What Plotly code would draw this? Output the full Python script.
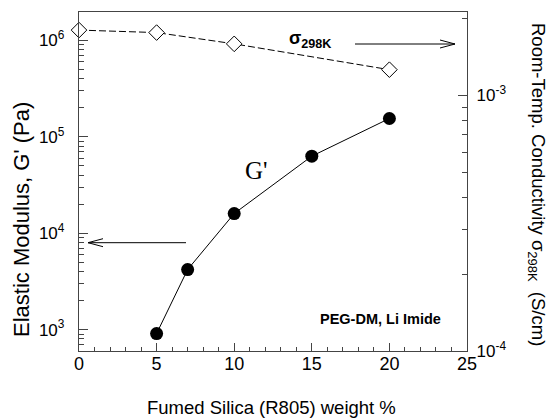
import plotly.graph_objects as go

# ---- data ----
x_sigma = [0, 5, 10, 20]
sigma = [1.80e-3, 1.76e-3, 1.59e-3, 1.26e-3]

x_g = [5, 7, 10, 15, 20]
g_mod = [910, 4200, 1.6e4, 6.3e4, 1.55e5]

x_ticks = [0, 5, 10, 15, 20, 25]
x_minor = [i for i in range(0, 26) if i % 5]
left_major = [1e3, 1e4, 1e5, 1e6]
left_labels = ["10<sup>3</sup>", "10<sup>4</sup>", "10<sup>5</sup>", "10<sup>6</sup>"]
left_minor = [m * 10 ** e for e in range(2, 7) for m in range(2, 10)]
right_major = [1e-4, 1e-3]
right_labels = ["10<sup>-4</sup>", "10<sup>-3</sup>"]
right_minor = [m * 10.0 ** e for e in (-4, -3) for m in range(2, 10)]

# ---- layout geometry (pixels) ----
W, H = 548, 418
L, R, T, B = 79, 81, 12, 67
pw, ph = W - L - R, H - T - B


def px(x):
    return (x - L) / pw


def py(y):
    return (H - B - y) / ph


AX = "#444444"
FONT = "Liberation Sans, Arial, sans-serif"

fig = go.Figure()
fig.add_trace(go.Scatter(
    x=x_g, y=g_mod, mode="lines+markers", yaxis="y",
    line=dict(color="black", width=1),
    marker=dict(symbol="circle", size=13, color="black"),
    cliponaxis=False, showlegend=False))
fig.add_trace(go.Scatter(
    x=x_sigma, y=sigma, mode="lines+markers", yaxis="y2",
    line=dict(color="black", width=1, dash="7px,3px"),
    marker=dict(symbol="diamond", size=12, color="white",
                line=dict(color="black", width=1)),
    cliponaxis=False, showlegend=False))

common = dict(showgrid=False, zeroline=False, showline=True, linecolor=AX,
              linewidth=1.3, ticks="inside", tickcolor=AX, tickwidth=1)

fig.update_layout(
    width=W, height=H,
    margin=dict(l=L, r=R, t=T, b=B),
    paper_bgcolor="white", plot_bgcolor="white",
    font=dict(family=FONT, color="black"),
    xaxis=dict(range=[0, 25], tickmode="array", tickvals=x_ticks, ticklen=8,
               mirror=True, tickfont=dict(size=18), ticklabelstandoff=-4,
               minor=dict(tickmode="array", tickvals=x_minor, ticklen=4,
                          ticks="inside", tickcolor=AX), **common),
    yaxis=dict(type="log", range=[2.778, 6.295], tickmode="array",
               tickvals=left_major, ticktext=left_labels, ticklen=9,
               tickfont=dict(size=17), ticklabelstandoff=10,
               minor=dict(tickmode="array", tickvals=left_minor, ticklen=5,
                          ticks="inside", tickcolor=AX), **common),
    yaxis2=dict(type="log", range=[-4, -2.674], overlaying="y", side="right",
                tickmode="array", tickvals=right_major, ticktext=right_labels,
                ticklen=9, tickfont=dict(size=17), ticklabelstandoff=5,
                minor=dict(tickmode="array", tickvals=right_minor, ticklen=5,
                           ticks="inside", tickcolor=AX), **common),
)

# arrows
line_style = dict(color="black", width=1)
shapes = []
# left arrow
shapes.append(dict(type="line", xref="paper", yref="paper",
                   x0=px(88), y0=py(242.7), x1=px(186), y1=py(242.7), line=line_style))
shapes.append(dict(type="path", xref="paper", yref="paper",
                   path=f"M{px(103)},{py(238.7)} L{px(88)},{py(242.7)} L{px(103)},{py(246.7)}",
                   line=line_style))
# right arrow
shapes.append(dict(type="line", xref="paper", yref="paper",
                   x0=px(355), y0=py(44), x1=px(455), y1=py(44), line=line_style))
shapes.append(dict(type="path", xref="paper", yref="paper",
                   path=f"M{px(440)},{py(40)} L{px(455)},{py(44)} L{px(440)},{py(48)}",
                   line=line_style))
fig.update_layout(shapes=shapes)


def note(text, x, y, size, family=FONT, angle=0):
    return dict(text=text, x=px(x), y=py(y), xref="paper", yref="paper",
                xanchor="center", yanchor="middle", showarrow=False,
                textangle=angle, font=dict(size=size, family=family))


ann = [
    note("Fumed Silica (R805) weight %", 271, 407, 18.5),
    note("Elastic Modulus, G' (Pa)", 21, 220, 22, angle=-90),
    note("Room-Temp. Conductivity σ<sub>298K</sub>  (S/cm)", 537, 184, 18.5, angle=90),
    note("<b>σ<sub>298K</sub></b>", 310, 39, 18),
    note("G'", 256, 171, 25, family="Liberation Serif, Times New Roman, serif"),
    note("<b>PEG-DM, Li Imide</b>", 380, 319, 14.5),
]
fig.update_layout(annotations=ann)

fig.write_html("out.html")
